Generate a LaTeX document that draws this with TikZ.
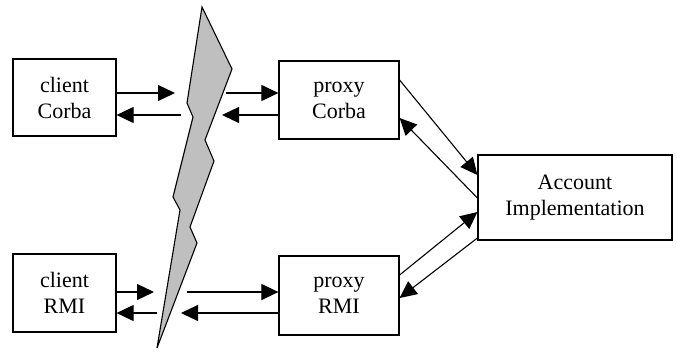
\documentclass[tikz,border=0pt]{standalone}
\usepackage{fontspec}
\setmainfont{Liberation Serif}
\usetikzlibrary{arrows.meta,calc}
\tikzset{
  box/.style={draw, line width=1.2pt, inner sep=0pt, align=center,
    font=\fontsize{22}{26}\selectfont},
  arr/.style={line width=1.1pt, -{Triangle[length=17pt,width=16pt]}},
  bolt/.style={draw, line width=1.1pt, fill=black!25, line join=miter}
}
\begin{document}
\begin{tikzpicture}[x=1pt, y=-1pt]
\useasboundingbox (0,0) rectangle (677,351);

% components
\node[box, minimum width=103pt, minimum height=77pt] (cc) at (64.5,97.5) {client\\Corba};
\node[box, minimum width=103pt, minimum height=78pt] (cr) at (64.5,293) {client\\RMI};
\node[box, minimum width=120pt, minimum height=78pt] (pc) at (339,100) {proxy\\Corba};
\node[box, minimum width=120pt, minimum height=79pt] (pr) at (339,295.5) {proxy\\RMI};
\node[box, minimum width=194pt, minimum height=85pt] (acc) at (575,197.5) {Account\\Implementation};

% network break (lightning bolt)
\draw[bolt] (202,7) -- (232,69) -- (205,140) -- (214,161) -- (190,227)
  -- (197,243) -- (157,348) -- (180,210) -- (173,197) -- (193,117)
  -- (187,103) -- cycle;

% free ends of the messages that meet the network break
\coordinate (c1) at (175,93);
\coordinate (c2) at (181,115);
\coordinate (c3) at (226,93);
\coordinate (c4) at (222,115);
\coordinate (r1) at (154,292);
\coordinate (r2) at (157,313);
\coordinate (r3) at (187,292);
\coordinate (r4) at (181,313);

% Corba side
\draw[arr] (cc.east |- c1) -- (c1);
\draw[arr] (c2) -- (cc.east |- c2);
\draw[arr] (c3) -- (pc.west |- c3);
\draw[arr] (pc.west |- c4) -- (c4);

% RMI side
\draw[arr] (cr.east |- r1) -- (r1);
\draw[arr] (r2) -- (cr.east |- r2);
\draw[arr] (r3) -- (pr.west |- r3);
\draw[arr] (pr.west |- r4) -- (r4);

% proxies to the implementation
\draw[arr] ($(pc.east)+(0,-20)$) -- ($(acc.west)+(0,-22.5)$);
\draw[arr] ($(acc.west)+(0,0.5)$) -- ($(pc.east)+(0,18)$);
\draw[arr] ($(pr.east)+(0,-20.5)$) -- ($(acc.west)+(0,14.5)$);
\draw[arr] ($(acc.west)+(0,40.5)$) -- ($(pr.east)+(0,2.5)$);
\end{tikzpicture}
\end{document}
